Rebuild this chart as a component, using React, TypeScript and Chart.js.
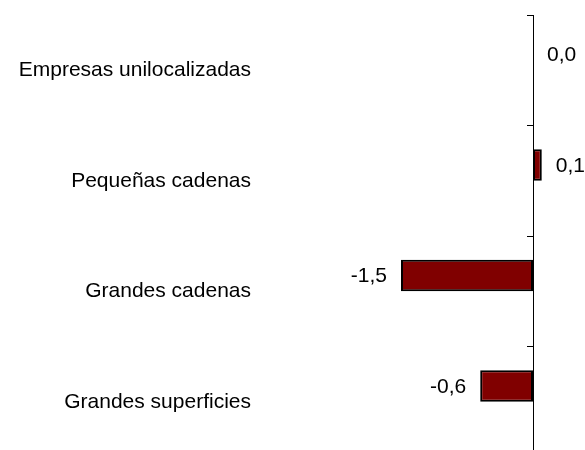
import React, { useEffect, useRef } from "react";
import { Chart, registerables } from "chart.js";

Chart.register(...registerables);

const categories = [
  "Empresas unilocalizadas",
  "Pequeñas cadenas",
  "Grandes cadenas",
  "Grandes superficies",
];
const values = [0.0, 0.1, -1.5, -0.6];
const emptySeries: (number | null)[] = [null, null, null, null];
const xMin = -3;
const xMax = 0.5;

const FONT = '"Liberation Sans", Arial, sans-serif';
const FONT_SIZE = 21;

const fmt = (v: number) => v.toFixed(1).replace(".", ",");

const valueLabels = {
  id: "valueLabels",
  afterDatasetsDraw(chart: any) {
    const ctx = chart.ctx;
    const meta = chart.getDatasetMeta(0);
    ctx.save();
    ctx.font = `${FONT_SIZE}px ${FONT}`;
    ctx.fillStyle = "#000000";
    ctx.textBaseline = "middle";
    meta.data.forEach((el: any, i: number) => {
      const v = values[i];
      const text = fmt(v);
      if (v < 0) {
        ctx.textAlign = "right";
        ctx.fillText(text, el.x - 14, el.y + 1);
      } else {
        ctx.textAlign = "left";
        ctx.fillText(text, el.x + 14, el.y + 1);
      }
    });
    ctx.restore();
  },
};

export default function App() {
  const ref = useRef<HTMLCanvasElement | null>(null);

  useEffect(() => {
    if (!ref.current) return;
    const chart = new Chart(ref.current, {
      type: "bar",
      data: {
        labels: categories,
        datasets: [
          {
            data: values,
            backgroundColor: "#800000",
            borderColor: "#000000",
            borderWidth: (c: any) => (c.raw === 0 ? 0 : 2),
            borderSkipped: false,
            categoryPercentage: 2 / 3.5,
            barPercentage: 1,
            yAxisID: "y",
          },
          {
            data: emptySeries,
            backgroundColor: "#800000",
            categoryPercentage: 2 / 3.5,
            barPercentage: 1,
            yAxisID: "y",
          },
        ],
      },
      plugins: [valueLabels],
      options: {
        indexAxis: "y",
        animation: false,
        responsive: false,
        maintainAspectRatio: false,
        devicePixelRatio: 1,
        layout: { padding: { top: 15, bottom: 3, left: 0, right: 8 } },
        plugins: {
          legend: { display: false },
          tooltip: { enabled: false },
          title: { display: false },
        },
        scales: {
          x: {
            type: "linear",
            min: xMin,
            max: xMax,
            display: false,
          },
          y: {
            type: "category",
            position: "left",
            offset: true,
            grid: { display: false, offset: true },
            border: { display: false },
            ticks: {
              color: "#000000",
              font: { family: FONT, size: FONT_SIZE },
              padding: 10,
            },
            afterFit: (s: any) => {
              s.width = 269;
              s.paddingTop = 0;
              s.paddingBottom = 0;
            },
          },
          y2: {
            type: "category",
            axis: "y",
            position: { x: 0 },
            offset: true,
            grid: {
              display: true,
              offset: true,
              drawOnChartArea: false,
              drawTicks: true,
              tickLength: 6,
              color: "#000000",
              lineWidth: 1,
            },
            border: { display: true, color: "#000000", width: 1 },
            ticks: { display: false },
            afterFit: (s: any) => {
              s.paddingTop = 0;
              s.paddingBottom = 0;
            },
          },
        },
      } as any,
    });
    return () => chart.destroy();
  }, []);

  return (
    <div
      style={{
        position: "absolute",
        left: 0,
        top: 0,
        width: 585,
        height: 450,
        overflow: "hidden",
        background: "#ffffff",
      }}
    >
      <canvas ref={ref} width={585} height={460} style={{ display: "block" }} />
    </div>
  );
}
